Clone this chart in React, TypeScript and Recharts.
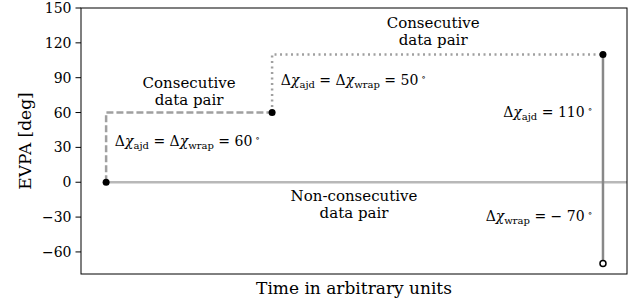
import { LineChart, Line, XAxis, YAxis, Scatter, ReferenceDot } from "recharts";

// sample times (arbitrary units) and EVPA values in degrees
const times = [4.6, 35, 95.6];
const evpa = [0, 60, 110];
const wrappedEvpa = -70;
const timeEnd = 100;

const yTicks = [-60, -30, 0, 30, 60, 90, 120, 150];

const consecutiveA = [
  { t: times[0], v: evpa[0] },
  { t: times[1], v: evpa[1] },
];
const consecutiveB = [
  { t: times[1], v: evpa[1] },
  { t: times[2], v: evpa[2] },
];
const nonConsecutive = [
  { t: times[0], v: evpa[0] },
  { t: timeEnd, v: evpa[0] },
];
const wrapJump = [
  { t: times[2], v: evpa[2] },
  { t: times[2], v: wrappedEvpa },
];
const filledPoints = times.map((t, i) => ({ t, v: evpa[i] }));
const openPoints = [{ t: times[2], v: wrappedEvpa }];

const FONT = "'DejaVu Serif', serif";

const Delta = ({ sub }: { sub: string }) => (
  <>
    <tspan>Δ</tspan>
    <tspan fontStyle="italic">χ</tspan>
    <tspan fontSize={10} dy={3}>{sub}</tspan>
    <tspan dy={-3}> </tspan>
  </>
);

type Note = {
  t: number;
  v: number;
  anchor: "start" | "middle" | "end";
  lines?: string[];
  math?: "both60" | "both50" | "ajd" | "wrap";
};

const notes: Note[] = [
  { t: 19.8, v: 81, anchor: "middle", lines: ["Consecutive", "data pair"] },
  { t: 64.5, v: 132.5, anchor: "middle", lines: ["Consecutive", "data pair"] },
  { t: 50, v: -16, anchor: "middle", lines: ["Non-consecutive", "data pair"] },
  { t: 6.2, v: 31, anchor: "start", math: "both60" },
  { t: 36.6, v: 83.5, anchor: "start", math: "both50" },
  { t: 93.6, v: 56, anchor: "end", math: "ajd" },
  { t: 93.6, v: -33.5, anchor: "end", math: "wrap" },
];

const Deg = () => (
  <>
    <tspan fontSize={9} dx={3} dy={-5}>∘</tspan>
  </>
);

const NoteLabel = (note: Note) => (props: any) => {
  const vb = props.viewBox || {};
  const x = vb.x ?? 0;
  const y = vb.y ?? 0;
  if (note.lines) {
    return (
      <text x={x} y={y} textAnchor={note.anchor} fontFamily={FONT} fontSize={15} fill="#000">
        {note.lines.map((l, i) => (
          <tspan key={i} x={x} dy={i === 0 ? 0 : 17}>
            {l}
          </tspan>
        ))}
      </text>
    );
  }
  let content;
  if (note.math === "both60" || note.math === "both50") {
    content = (
      <>
        <Delta sub="ajd" />
        <tspan>= </tspan>
        <Delta sub="wrap" />
        <tspan>= {note.math === "both60" ? "60" : "50"}</tspan>
        <Deg />
      </>
    );
  } else if (note.math === "ajd") {
    content = (
      <>
        <Delta sub="ajd" />
        <tspan>= 110</tspan>
        <Deg />
      </>
    );
  } else {
    content = (
      <>
        <Delta sub="wrap" />
        <tspan>= − 70</tspan>
        <Deg />
      </>
    );
  }
  return (
    <text x={x} y={y} textAnchor={note.anchor} fontFamily={FONT} fontSize={14} fill="#000">
      {content}
    </text>
  );
};

const FilledDot = (props: any) => <circle cx={props.cx} cy={props.cy} r={3.5} fill="#000" />;
const OpenDot = (props: any) => (
  <circle cx={props.cx} cy={props.cy} r={3} fill="#fff" stroke="#000" strokeWidth={1.5} />
);

export default function App() {
  return (
    <div style={{ position: "absolute", left: 0, top: 0, width: 640, height: 305, background: "#fff" }}>
      <LineChart
        width={640}
        height={305}
        margin={{ top: 8, right: 13, bottom: 31, left: 23 }}
      >
        <XAxis
          dataKey="t"
          type="number"
          domain={[0, timeEnd]}
          ticks={[]}
          tick={false}
          tickLine={false}
          axisLine={false}
          height={0}
        />
        <YAxis
          type="number"
          domain={[-79, 150]}
          ticks={yTicks}
          interval={0}
          width={58}
          tickSize={5.5}
          tickMargin={4}
          axisLine={false}
          tickLine={{ stroke: "#000" }}
          tick={{ fontFamily: FONT, fontSize: 14, fill: "#000" }}
          tickFormatter={(v: number) => String(v).replace("-", "\u2212")}
          allowDataOverflow
        />
        <Line
          data={nonConsecutive}
          dataKey="v"
          type="linear"
          stroke="#b8b8b8"
          strokeWidth={2.5}
          dot={false}
          isAnimationActive={false}
        />
        <Line
          data={consecutiveA}
          dataKey="v"
          type="stepBefore"
          stroke="#a0a0a0"
          strokeWidth={2.5}
          strokeDasharray="7 3"
          dot={false}
          isAnimationActive={false}
        />
        <Line
          data={consecutiveB}
          dataKey="v"
          type="stepBefore"
          stroke="#a0a0a0"
          strokeWidth={2.5}
          strokeDasharray="2 3.5"
          dot={false}
          isAnimationActive={false}
        />
        <Line
          data={wrapJump}
          dataKey="v"
          type="linear"
          stroke="#888888"
          strokeWidth={2.5}
          dot={false}
          isAnimationActive={false}
        />
        <Scatter data={filledPoints} dataKey="v" shape={FilledDot} isAnimationActive={false} />
        <Scatter data={openPoints} dataKey="v" shape={OpenDot} isAnimationActive={false} />
        {notes.map((n, i) => (
          <ReferenceDot
            key={i}
            x={n.t}
            y={n.v}
            r={0}
            fill="none"
            stroke="none"
            label={NoteLabel(n)}
          />
        ))}
      </LineChart>
      <svg
        width={640}
        height={305}
        style={{ position: "absolute", left: 0, top: 0, pointerEvents: "none" }}
      >
        <rect x={81} y={8} width={546} height={266} fill="none" stroke="#000" strokeWidth={1} />
        <text x={354} y={294} textAnchor="middle" fontFamily={FONT} fontSize={17} fill="#000">
          Time in arbitrary units
        </text>
        <text
          x={0}
          y={0}
          transform="translate(31 141) rotate(-90)"
          textAnchor="middle"
          fontFamily={FONT}
          fontSize={17}
          fill="#000"
        >
          EVPA [deg]
        </text>
      </svg>
    </div>
  );
}
